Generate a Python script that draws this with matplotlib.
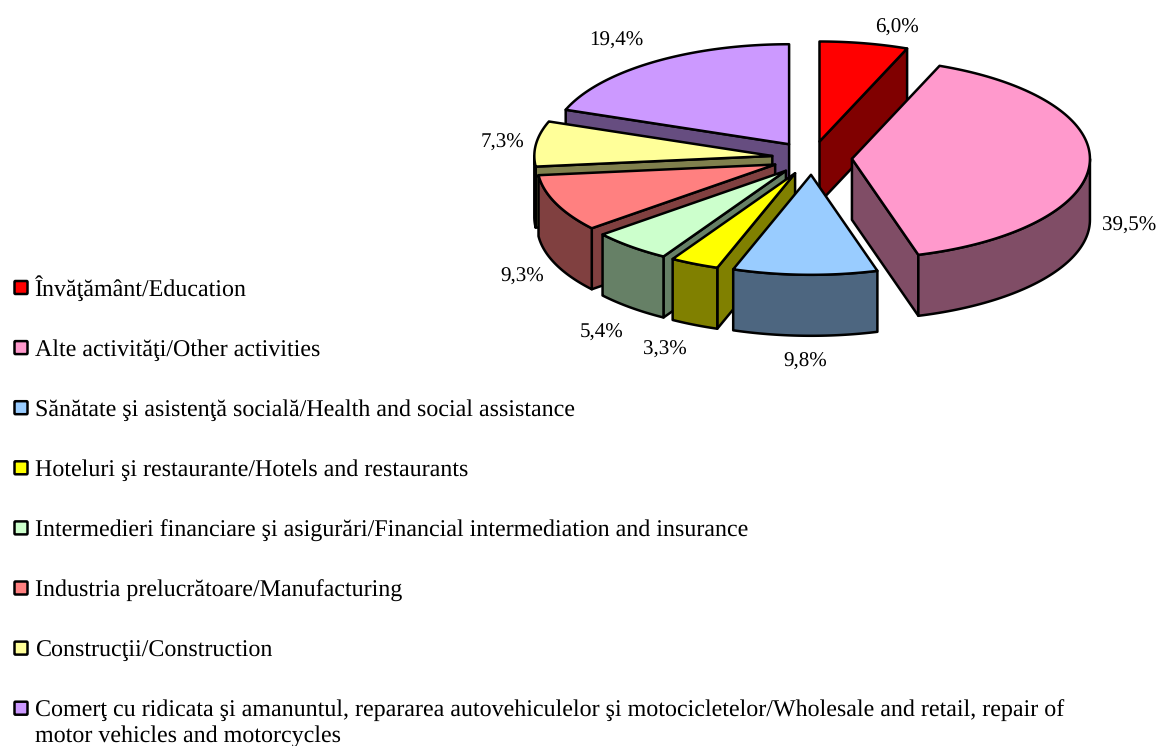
import numpy as np
import matplotlib

matplotlib.use("Agg")
import matplotlib.pyplot as plt
from matplotlib.patches import Polygon, FancyBboxPatch

plt.rcParams["font.family"] = ["Liberation Serif", "DejaVu Serif"]
plt.rcParams["text.hinting"] = "no_hinting"
plt.rcParams["text.hinting_factor"] = 1

# --- dati ---
labels = [
    "Învăţământ/Education",
    "Alte activităţi/Other activities",
    "Sănătate şi asistenţă socială/Health and social assistance",
    "Hoteluri şi restaurante/Hotels and restaurants",
    "Intermedieri financiare şi asigurări/Financial intermediation and insurance",
    "Industria prelucrătoare/Manufacturing",
    "Construcţii/Construction",
    "Comerţ cu ridicata şi amanuntul, repararea autovehiculelor şi motocicletelor/"
    "Wholesale and retail, repair of\nmotor vehicles and motorcycles",
]
values = [6.0, 39.5, 9.8, 3.3, 5.4, 9.3, 7.3, 19.4]
top_colors = ["#FF0000", "#FF99CC", "#99CCFF", "#FFFF00", "#CCFFCC", "#FF8080", "#FFFF99", "#CC99FF"]
side_colors = ["#800000", "#804D66", "#4D6680", "#808000", "#668066", "#804040", "#80804D", "#664D80"]

# --- geometria della torta, in pixel ---
CX, CY = 812, 158
RX, RY = 238, 100
DEPTH = 61
EXPLODE = 0.168
EDGE = 1.8
VALUE_SIZE = 15.2
LEGEND_SIZE = 17.25

# etichette percentuali (centro del testo)
value_label_xy = [
    (897, 28), (1129, 226), (805, 362), (665, 350),
    (602, 333), (522, 277), (502, 143), (616, 41),
]
# ordine di disegno, dal fondo verso il davanti
draw_order = [0, 7, 1, 6, 5, 4, 3, 2]


def point(theta, apex, r=1.0):
    # theta in gradi, in senso orario a partire dall'alto
    t = np.radians(theta)
    return np.column_stack(
        [apex[0] + r * RX * np.sin(t), apex[1] - r * RY * np.cos(t)]
    )


def draw_slice(ax, start, stop, top, side):
    mid = np.radians((start + stop) / 2)
    apex = (
        CX + EXPLODE * RX * np.sin(mid),
        CY - EXPLODE * RY * np.cos(mid),
    )
    kw = dict(edgecolor="black", linewidth=EDGE, joinstyle="round")
    down = np.array([0, DEPTH])

    # facce radiali visibili
    for theta, visible in ((start, np.sin(np.radians(start)) < -1e-6),
                           (stop, np.sin(np.radians(stop)) > 1e-6)):
        if visible:
            rim = point(np.array([theta]), apex)[0]
            ax.add_patch(
                Polygon(
                    [apex, rim, rim + down, np.array(apex) + down],
                    facecolor=side,
                    **kw,
                )
            )

    # fianco esterno (solo la parte anteriore, 90-270 gradi)
    lo, hi = max(start, 90), min(stop, 270)
    if lo < hi:
        arc = point(np.linspace(lo, hi, 60), apex)
        ax.add_patch(
            Polygon(np.vstack([arc, (arc + down)[::-1]]), facecolor=side, **kw)
        )

    # faccia superiore
    arc = point(np.linspace(start, stop, 120), apex)
    ax.add_patch(Polygon(np.vstack([[apex], arc]), facecolor=top, **kw))


fig = plt.figure(figsize=(11.59, 7.46), dpi=100)
ax = fig.add_axes([0, 0, 1, 1])
ax.set_xlim(0, 1159)
ax.set_ylim(746, 0)
ax.axis("off")

# --- torta ---
edges = np.concatenate([[0], np.cumsum(values)]) / np.sum(values) * 360
for i in draw_order:
    draw_slice(ax, edges[i], edges[i + 1], top_colors[i], side_colors[i])

for v, (x, y) in zip(values, value_label_xy):
    ax.text(x, y, f"{v:.1f}%".replace(".", ","), fontsize=VALUE_SIZE, ha="center", va="center", color="black")

# --- legenda ---
for i, (lab, col) in enumerate(zip(labels, top_colors)):
    y = 287.5 + i * 60.1
    ax.add_patch(
        FancyBboxPatch(
            (14.5, y - 6.5),
            13,
            13,
            boxstyle="round,pad=0,rounding_size=1",
            facecolor=col,
            edgecolor="black",
            linewidth=EDGE,
        )
    )
    for k, line in enumerate(lab.split("\n")):
        ax.text(35, y + 8.5 + 25 * k, line, fontsize=LEGEND_SIZE, ha="left", va="baseline", color="black")

fig.savefig("out.png", dpi=100)
